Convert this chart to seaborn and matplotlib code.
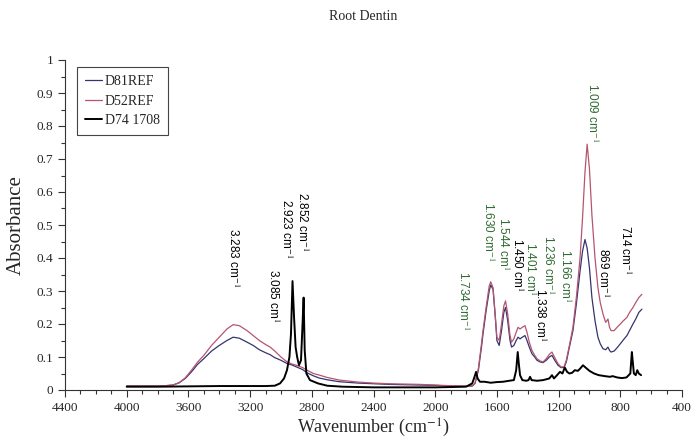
import matplotlib
matplotlib.use("Agg")
import matplotlib.pyplot as plt
from matplotlib.ticker import MultipleLocator
import numpy as np
import pandas as pd
import seaborn as sns

# Spectra (wavenumber in cm-1, absorbance)
d81_wn = [4000, 3900, 3800, 3750, 3700, 3660, 3620, 3580, 3540, 3500, 3450, 3400, 3350, 3310,
          3270, 3220, 3180, 3140, 3100, 3070, 3040, 3000, 2960, 2930, 2900, 2860, 2830, 2790,
          2750, 2700, 2620, 2500, 2400, 2300, 2200, 2100, 2000, 1900, 1800, 1760, 1742, 1720,
          1700, 1690, 1670, 1650, 1640, 1625, 1610, 1600, 1585, 1570, 1555, 1544, 1530, 1515,
          1505, 1490, 1475, 1463, 1450, 1435, 1418, 1405, 1390, 1373, 1355, 1340, 1320, 1301,
          1280, 1260, 1243, 1225, 1204, 1185, 1165, 1150, 1130, 1107, 1085, 1061, 1045, 1029,
          1015, 1000, 984, 964, 945, 930, 912, 895, 880, 870, 860, 840, 821, 800, 780, 757,
          740, 718, 700, 680, 660]
d81_abs = [0.012, 0.012, 0.012, 0.013, 0.015, 0.022, 0.035, 0.055, 0.078, 0.095, 0.118, 0.135,
           0.150, 0.160, 0.157, 0.145, 0.135, 0.122, 0.113, 0.107, 0.098, 0.090, 0.080, 0.076,
           0.070, 0.062, 0.052, 0.043, 0.036, 0.031, 0.025, 0.021, 0.019, 0.017, 0.016, 0.015,
           0.014, 0.012, 0.011, 0.012, 0.020, 0.060, 0.130, 0.170, 0.240, 0.300, 0.318, 0.305,
           0.220, 0.150, 0.135, 0.180, 0.235, 0.250, 0.210, 0.150, 0.130, 0.135, 0.150, 0.160,
           0.155, 0.160, 0.165, 0.150, 0.130, 0.110, 0.100, 0.090, 0.085, 0.083, 0.090, 0.100,
           0.105, 0.090, 0.075, 0.068, 0.068, 0.085, 0.130, 0.180, 0.260, 0.360, 0.420, 0.456,
           0.430, 0.370, 0.280, 0.210, 0.160, 0.140, 0.125, 0.122, 0.130, 0.120, 0.115, 0.118,
           0.128, 0.140, 0.152, 0.165, 0.180, 0.200, 0.215, 0.235, 0.245]

d52_wn = d81_wn
d52_abs = [0.012, 0.012, 0.012, 0.013, 0.015, 0.022, 0.037, 0.060, 0.085, 0.105, 0.135, 0.160,
           0.185, 0.198, 0.195, 0.180, 0.165, 0.150, 0.138, 0.130, 0.118, 0.100, 0.085, 0.079,
           0.075, 0.068, 0.060, 0.050, 0.045, 0.038, 0.030, 0.024, 0.021, 0.019, 0.018, 0.017,
           0.015, 0.013, 0.012, 0.013, 0.020, 0.065, 0.140, 0.180, 0.250, 0.315, 0.328, 0.310,
           0.220, 0.160, 0.150, 0.200, 0.255, 0.270, 0.230, 0.165, 0.145, 0.155, 0.175, 0.190,
           0.185, 0.190, 0.195, 0.175, 0.145, 0.120, 0.105, 0.095, 0.088, 0.085, 0.095, 0.108,
           0.115, 0.098, 0.080, 0.070, 0.070, 0.090, 0.135, 0.190, 0.280, 0.400, 0.520, 0.660,
           0.745, 0.670, 0.530, 0.400, 0.310, 0.265, 0.230, 0.205, 0.215, 0.190, 0.180, 0.180,
           0.190, 0.200, 0.210, 0.220, 0.235, 0.250, 0.265, 0.280, 0.290]

d74_wn = [4000, 3800, 3600, 3400, 3200, 3100, 3040, 3006, 2980, 2961, 2945, 2935, 2925, 2915,
          2905, 2895, 2883, 2870, 2860, 2853, 2846, 2835, 2812, 2760, 2700, 2600, 2400, 2200,
          2000, 1800, 1760, 1745, 1735, 1725, 1710, 1680, 1640, 1600, 1560, 1520, 1490, 1475,
          1465, 1458, 1450, 1435, 1410, 1395, 1385, 1375, 1340, 1300, 1260, 1243, 1230, 1210,
          1191, 1175, 1160, 1145, 1130, 1113, 1095, 1075, 1060, 1042, 1025, 1000, 970, 940,
          900, 867, 850, 820, 790, 760, 735, 725, 718, 712, 700, 690, 680, 665]
d74_abs = [0.010, 0.010, 0.011, 0.012, 0.012, 0.012, 0.013, 0.020, 0.035, 0.060, 0.100, 0.170,
           0.330, 0.220, 0.130, 0.100, 0.075, 0.090, 0.200, 0.280, 0.120, 0.050, 0.030, 0.020,
           0.013, 0.010, 0.008, 0.008, 0.008, 0.010, 0.020, 0.040, 0.055, 0.035, 0.025, 0.025,
           0.022, 0.024, 0.025, 0.028, 0.030, 0.060, 0.115, 0.080, 0.045, 0.030, 0.028, 0.030,
           0.040, 0.030, 0.028, 0.030, 0.035, 0.045, 0.035, 0.045, 0.055, 0.050, 0.068, 0.055,
           0.050, 0.052, 0.060, 0.058, 0.065, 0.075, 0.068, 0.058, 0.050, 0.045, 0.042, 0.040,
           0.042, 0.038, 0.036, 0.038, 0.050, 0.115, 0.080, 0.050, 0.045, 0.060, 0.050, 0.045]

# Peak labels: text, wavenumber, absorbance (top of text), colour
peak_text = ["3.283 cm$^{-1}$", "3.085 cm$^{1}$", "2.923 cm$^{-1}$", "2.852 cm$^{-1}$",
             "1.734 cm$^{-1}$", "1.630 cm$^{-1}$", "1.544 cm$^{1}$", "1.450 cm$^{1}$",
             "1.401 cm$^{1}$", "1.338 cm$^{1}$", "1.236 cm$^{-1}$", "1.166 cm$^{1}$",
             "1.009 cm$^{-1}$", "869 cm$^{-1}$", "714 cm$^{-1}$"]
peak_wn = [3311, 3052, 2968, 2862, 1820, 1658, 1560, 1470, 1385, 1321, 1269, 1159, 984, 912, 770]
peak_top = [0.49, 0.366, 0.58, 0.60, 0.36, 0.57, 0.525, 0.46, 0.45, 0.31, 0.47, 0.426, 0.93, 0.43, 0.50]
green = "#2f6b32"
peak_color = ["black", "black", "black", "black", green, green, green, "black",
              green, "black", green, green, green, "black", "black"]

df = pd.concat([
    pd.DataFrame({"wn": d81_wn, "abs": d81_abs, "sample": "D81REF"}),
    pd.DataFrame({"wn": d52_wn, "abs": d52_abs, "sample": "D52REF"}),
    pd.DataFrame({"wn": d74_wn, "abs": d74_abs, "sample": "D74 1708"}),
])

sns.set_style("ticks")
plt.rcParams["font.family"] = ["Liberation Serif", "DejaVu Serif"]
plt.rcParams["mathtext.fontset"] = "stix"

fig = plt.figure(figsize=(6.91, 4.42), dpi=100)
ax = fig.add_axes([65 / 691, 1 - 390 / 442, 617 / 691, 330 / 442])

palette = {"D81REF": "#34346f", "D52REF": "#b5556f", "D74 1708": "black"}
for name, lw in [("D81REF", 0.9), ("D52REF", 0.9), ("D74 1708", 1.4)]:
    sub = df[df["sample"] == name]
    sns.lineplot(data=sub, x="wn", y="abs", ax=ax, color=palette[name], linewidth=lw,
                 sort=False, estimator=None, label=name)

for t, x, y, c in zip(peak_text, peak_wn, peak_top, peak_color):
    ax.text(x, y, t, rotation=270, ha="center", va="top", fontsize=8.5, color=c,
            family=["Liberation Sans", "DejaVu Sans"])

ax.set_xlim(4400, 400)
ax.set_ylim(0, 1)
ax.xaxis.set_major_locator(MultipleLocator(400))
ax.xaxis.set_minor_locator(MultipleLocator(100))
ax.yaxis.set_major_locator(MultipleLocator(0.1))
ax.yaxis.set_minor_locator(MultipleLocator(0.05))
ax.set_yticks(np.arange(0, 1.01, 0.1))
ax.set_yticklabels(["0", "0.1", "0.2", "0.3", "0.4", "0.5", "0.6", "0.7", "0.8", "0.9", "1"])
ax.tick_params(axis="both", which="major", direction="out", length=5, width=0.8,
               labelsize=9.5, color="#333333")
ax.tick_params(axis="both", which="minor", direction="out", length=3, width=0.8, color="#333333")
for s in ["top", "right"]:
    ax.spines[s].set_visible(False)
for s in ["left", "bottom"]:
    ax.spines[s].set_linewidth(0.8)
    ax.spines[s].set_color("#333333")

ax.set_xlabel("Wavenumber (cm$^{-1}$)", fontsize=13, labelpad=2)
ax.set_ylabel("Absorbance", fontsize=15, labelpad=8)

leg = ax.legend(loc="upper left", bbox_to_anchor=(0.019, 0.979), borderaxespad=0,
                frameon=True, fancybox=False, framealpha=1, edgecolor="#444444",
                fontsize=10, handlelength=1.2, handletextpad=0.2, labelspacing=0.45,
                borderpad=0.6)
leg.get_frame().set_linewidth(0.8)

fig.text(363 / 691, 1 - 16 / 442, "Root Dentin", ha="center", va="center", fontsize=10)

fig.savefig("out.png", dpi=100)
